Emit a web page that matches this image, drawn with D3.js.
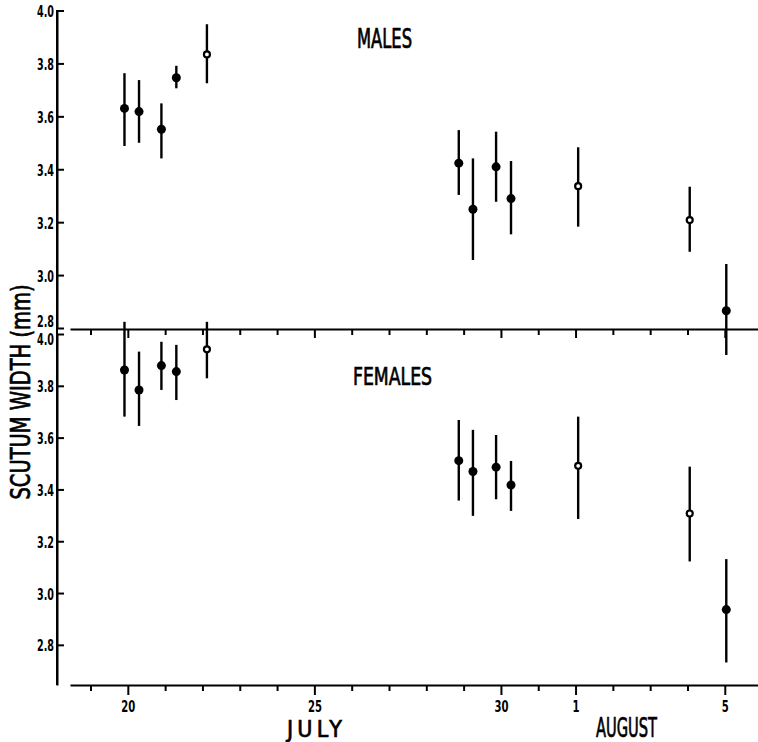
<!DOCTYPE html>
<html lang="en">
    <head>
        <meta charset="utf-8">
        <title>Scutum width, males and females</title>
        <script src="https://cdn.jsdelivr.net/npm/d3@7/dist/d3.min.js"></script>
        <style type="text/css">
            body { margin: 0; background: #fff; }
            .axis text {
                font-family: "Liberation Sans Narrow", "DejaVu Sans Condensed", "Liberation Sans", sans-serif;
                font-stretch: condensed;
                font-weight: bold;
                font-size: 15px;
                fill: black;
            }
            .axis path, .axis line { stroke: black; stroke-width: 2px; }
            .label {
                font-family: "Liberation Sans Narrow", "DejaVu Sans Condensed", "Liberation Sans", sans-serif;
                font-stretch: condensed;
                font-weight: normal;
                fill: black;
                stroke: black;
                stroke-width: 0.7px;
            }
        </style>
    </head>
    <body>
        <script type="text/javascript">

            // dates as day-of-July (Aug 1 = 32)
            var dates = [19.91, 20.30, 20.90, 21.30, 22.12, 28.87, 29.25, 29.87, 30.27, 32.07, 35.06, 36.04];
            var openMarker = [0, 0, 0, 0, 1, 0, 0, 0, 0, 1, 1, 0];

            var maleMean = [3.630, 3.618, 3.551, 3.746, 3.834, 3.423, 3.249, 3.409, 3.289, 3.336, 3.208, 2.865];
            var maleHigh = [3.763, 3.737, 3.649, 3.791, 3.948, 3.548, 3.441, 3.542, 3.431, 3.483, 3.334, 3.042];
            var maleLow  = [3.488, 3.500, 3.441, 3.706, 3.725, 3.303, 3.057, 3.277, 3.154, 3.183, 3.088, 2.698];

            var femaleMean = [3.861, 3.784, 3.878, 3.855, 3.941, 3.511, 3.469, 3.486, 3.417, 3.491, 3.307, 2.936];
            var femaleHigh = [4.047, 3.932, 3.970, 3.958, 4.047, 3.668, 3.630, 3.610, 3.510, 3.681, 3.488, 3.131];
            var femaleLow  = [3.681, 3.645, 3.784, 3.745, 3.829, 3.357, 3.298, 3.362, 3.317, 3.286, 3.122, 2.732];

            var yTicks = [2.8, 3.0, 3.2, 3.4, 3.6, 3.8, 4.0];
            var dayTicks = d3.range(19, 37);
            var majorDays = [20, 25, 30, 32, 36];

            var w = 758, h = 742;
            var axisX = 57;

            var svg = d3.select("body")
                .append("svg")
                .attr("width", w)
                .attr("height", h);

            var xScale = d3.scaleLinear().domain([18.45, 36.89]).range([70, 758]);
            var yTop = d3.scaleLinear().domain([2.8, 4.0]).range([328, 10.5]);
            var yBot = d3.scaleLinear().domain([2.645, 4.0]).range([685, 334]);

            function dayLabel(d) {
                if (majorDays.indexOf(d) < 0) return "";
                return d > 31 ? (d - 31) : d;
            }

            // y axes
            var topY = svg.append("g")
                .attr("class", "axis")
                .attr("transform", "translate(" + axisX + ",0)")
                .call(d3.axisLeft(yTop).tickValues(yTicks).tickSize(-7).tickSizeOuter(0).tickPadding(3).tickFormat(d3.format(".1f")));
            topY.selectAll(".tick text")
                .attr("textLength", 17).attr("lengthAdjust", "spacingAndGlyphs")
                .attr("dy", function(d) { return d === 2.8 ? "-0.08em" : "0.4em"; });
            var botY = svg.append("g")
                .attr("class", "axis")
                .attr("transform", "translate(" + axisX + ",0)")
                .call(d3.axisLeft(yBot).tickValues(yTicks).tickSize(-7).tickSizeOuter(0).tickPadding(3).tickFormat(d3.format(".1f")));
            botY.selectAll(".tick text")
                .attr("textLength", 17).attr("lengthAdjust", "spacingAndGlyphs")
                .attr("dy", function(d) { return d === 4.0 ? "0.72em" : "0.4em"; });
            svg.append("line")
                .attr("x1", axisX).attr("x2", axisX)
                .attr("y1", 10).attr("y2", 685)
                .attr("stroke", "black").attr("stroke-width", 2);

            // divider axis between panels
            var midAxis = svg.append("g")
                .attr("class", "axis")
                .attr("transform", "translate(0,329)")
                .call(d3.axisBottom(xScale).tickValues(dayTicks).tickSize(6).tickSizeOuter(0).tickFormat(""));
            midAxis.selectAll(".tick line")
                .attr("y2", function(d) { return majorDays.indexOf(d) >= 0 ? 9 : 6; });

            // bottom axis
            var botAxis = svg.append("g")
                .attr("class", "axis")
                .attr("transform", "translate(0,685)")
                .call(d3.axisBottom(xScale).tickValues(dayTicks).tickSize(6).tickSizeOuter(0).tickPadding(10).tickFormat(dayLabel));
            botAxis.selectAll(".tick line")
                .attr("y2", function(d) { return majorDays.indexOf(d) >= 0 ? 10 : 6; });
            botAxis.selectAll(".tick text")
                .style("font-size", "16px")
                .filter(function(d) { return majorDays.indexOf(d) >= 0; })
                .attr("textLength", function(d) { return d > 31 ? 7 : 14; })
                .attr("lengthAdjust", "spacingAndGlyphs");

            function drawPanel(yScale, mean, low, high) {
                var g = svg.append("g");
                g.selectAll("line.err")
                    .data(dates)
                    .enter()
                    .append("line")
                    .attr("class", "err")
                    .attr("x1", function(d) { return xScale(d); })
                    .attr("x2", function(d) { return xScale(d); })
                    .attr("y1", function(d, i) { return yScale(low[i]); })
                    .attr("y2", function(d, i) { return yScale(high[i]); })
                    .attr("stroke", "black")
                    .attr("stroke-width", 2.4);
                g.selectAll("circle")
                    .data(dates)
                    .enter()
                    .append("circle")
                    .attr("cx", function(d) { return xScale(d); })
                    .attr("cy", function(d, i) { return yScale(mean[i]); })
                    .attr("r", function(d, i) { return openMarker[i] ? 3 : 4.5; })
                    .attr("fill", function(d, i) { return openMarker[i] ? "white" : "black"; })
                    .attr("stroke", "black")
                    .attr("stroke-width", function(d, i) { return openMarker[i] ? 2.2 : 0; });
            }

            drawPanel(yTop, maleMean, maleLow, maleHigh);
            drawPanel(yBot, femaleMean, femaleLow, femaleHigh);

            // texts
            svg.append("text")
                .attr("class", "label")
                .attr("x", 357).attr("y", 48)
                .attr("textLength", 55).attr("lengthAdjust", "spacingAndGlyphs")
                .style("font-size", "26px")
                .text("MALES");
            svg.append("text")
                .attr("class", "label")
                .attr("x", 353).attr("y", 385)
                .attr("textLength", 79).attr("lengthAdjust", "spacingAndGlyphs")
                .style("font-size", "25px")
                .text("FEMALES");
            svg.append("text")
                .attr("class", "label")
                .attr("transform", "translate(30,392) rotate(-90)")
                .attr("text-anchor", "middle")
                .attr("textLength", 215).attr("lengthAdjust", "spacingAndGlyphs")
                .style("font-size", "26px")
                .text("SCUTUM WIDTH (mm)");
            svg.append("text")
                .attr("class", "label")
                .attr("x", 287).attr("y", 737)
                .attr("textLength", 55).attr("lengthAdjust", "spacing")
                .style("font-size", "23px")
                .text("JULY");
            svg.append("text")
                .attr("class", "label")
                .attr("x", 596).attr("y", 737)
                .attr("textLength", 61).attr("lengthAdjust", "spacingAndGlyphs")
                .style("font-size", "26px")
                .text("AUGUST");

        </script>
    </body>
</html>
